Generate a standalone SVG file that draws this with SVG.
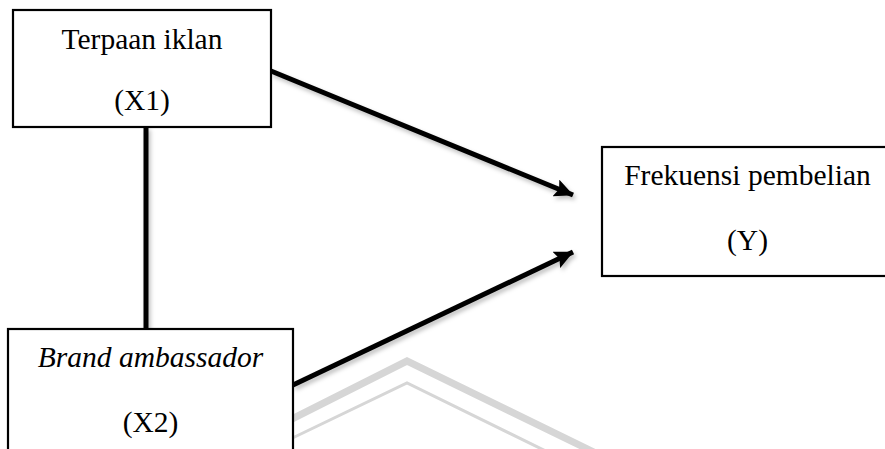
<svg xmlns="http://www.w3.org/2000/svg" width="885" height="449" viewBox="0 0 885 449">
<style>
.box{fill:#fff;stroke:#000;stroke-width:2.2}
.t{font-family:"Liberation Serif","Times New Roman",serif;font-size:29.5px;fill:#000;text-anchor:middle}
.it{font-style:italic}
.con{stroke:#000;fill:none;stroke-width:5}
.wm{fill:none;stroke:#d6d6d6;stroke-linejoin:miter}
</style>
<defs>
<marker id="ah" markerWidth="3.8" markerHeight="3.6" refX="3.7" refY="1.8" orient="auto" markerUnits="strokeWidth">
<path d="M0,0 L3.8,1.8 L0,3.6 L0.7,1.8 Z" fill="#000"/>
</marker>
<filter id="sh" x="-10%" y="-10%" width="130%" height="130%">
<feDropShadow dx="2" dy="3" stdDeviation="2" flood-color="#000" flood-opacity="0.25"/>
</filter>
</defs>
<rect width="885" height="449" fill="#fff"/>
<g id="watermark">
<polyline class="wm" stroke-width="7" points="280,425 407,361 610,460"/>
<polyline class="wm" stroke-width="3" points="280,444 407,383 560,458"/>
</g>
<g id="connectors" filter="url(#sh)">
<line class="con" x1="146" y1="127" x2="146" y2="329"/>
<line class="con" x1="271" y1="71" x2="573" y2="195" marker-end="url(#ah)"/>
<line class="con" x1="293" y1="385" x2="573" y2="252" marker-end="url(#ah)"/>
</g>
<g id="x1">
<rect class="box" x="13" y="10" width="258" height="117"/>
<text class="t" x="142" y="49">Terpaan iklan</text>
<text class="t" x="142" y="110">(X1)</text>
</g>
<g id="y">
<rect class="box" x="602" y="147" width="300" height="129"/>
<text class="t" x="747.5" y="185">Frekuensi pembelian</text>
<text class="t" x="747.5" y="250">(Y)</text>
</g>
<g id="x2">
<rect class="box" x="8" y="329" width="285" height="140"/>
<text class="t it" x="150.5" y="367">Brand ambassador</text>
<text class="t" x="150.5" y="432">(X2)</text>
</g>
</svg>
